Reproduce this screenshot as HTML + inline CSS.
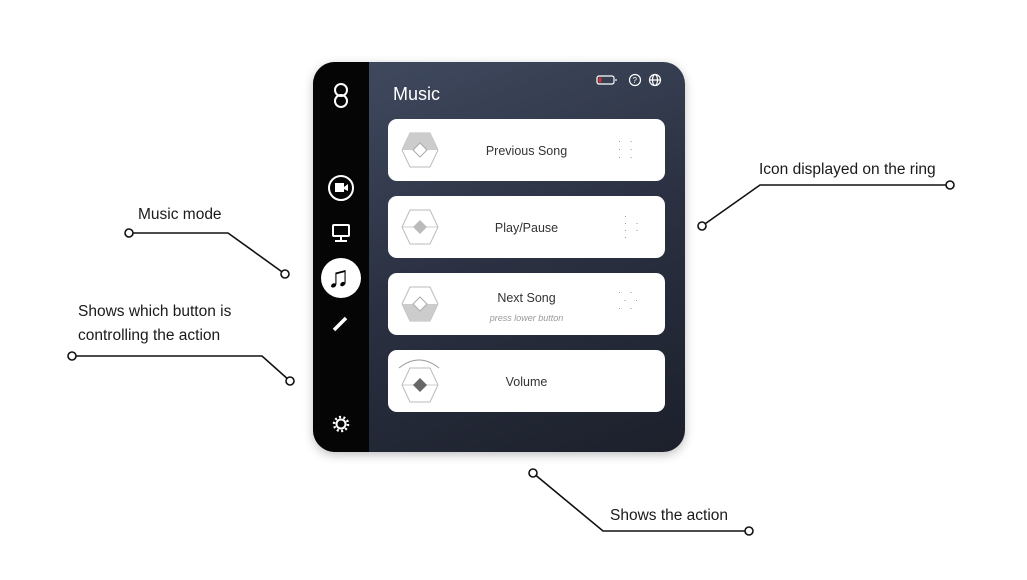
<!DOCTYPE html>
<html><head><style>
body{margin:0;width:1027px;height:580px;background:#fff;position:relative;overflow:hidden;font-family:"Liberation Sans",sans-serif}
.lbl{position:absolute;font-size:15.5px;color:#1a1a1a;line-height:24px}
.panel{position:absolute;left:313px;top:62px;width:372px;height:390px;border-radius:22px;overflow:hidden;background:linear-gradient(160deg,#414b60 0%,#2b3142 50%,#1c202b 100%);box-shadow:0 3px 10px rgba(0,0,0,.25)}
.side{position:absolute;left:0;top:0;width:56px;height:100%;background:#050505}
.card{position:absolute;left:75px;width:277px;height:62px;background:#fff;border-radius:9px}
.card .t{position:absolute;left:60px;right:60px;top:25px;text-align:center;font-size:12.5px;color:#333}
.hex{position:absolute;left:12px;top:12px}
.title{position:absolute;left:80px;top:22px;color:#fff;font-size:18px}
.dots{position:absolute;color:#888;font-size:9px;letter-spacing:3px;line-height:8px}
</style></head><body>
<svg width="1027" height="580" style="position:absolute;left:0;top:0" fill="none" stroke="#111" stroke-width="1.6">
<polyline points="129,233 228,233 285,274"/><circle cx="129" cy="233" r="4" fill="#fff"/><circle cx="285" cy="274" r="4" fill="#fff"/>
<polyline points="72,356 262,356 290,381"/><circle cx="72" cy="356" r="4" fill="#fff"/><circle cx="290" cy="381" r="4" fill="#fff"/>
<polyline points="950,185 760,185 702,226"/><circle cx="950" cy="185" r="4" fill="#fff"/><circle cx="702" cy="226" r="4" fill="#fff"/>
<polyline points="533,473 603,531 749,531"/><circle cx="533" cy="473" r="4" fill="#fff"/><circle cx="749" cy="531" r="4" fill="#fff"/>
</svg>
<div class="lbl" style="left:138px;top:203px">Music mode</div>
<div class="lbl" style="left:78px;top:300px">Shows which button is<br>controlling the action</div>
<div class="lbl" style="left:759px;top:158px">Icon displayed on the ring</div>
<div class="lbl" style="left:610px;top:504px">Shows the action</div>
<div class="panel">
 <div class="side">
  <svg width="56" height="390" fill="none" stroke="#fff" stroke-width="2">
   <circle cx="28" cy="28" r="6"/><circle cx="28" cy="39" r="6"/>
   <circle cx="28" cy="126" r="12"/><rect x="22" y="121" width="9" height="9" fill="#fff" stroke="none"/><polygon points="31,125 35,122 35,129 31,127" fill="#fff" stroke="none"/>
   <rect x="20" y="163" width="16" height="11" rx="1"/><line x1="28" y1="174" x2="28" y2="179"/><line x1="22" y1="179" x2="34" y2="179"/>
   <circle cx="28" cy="216" r="20" fill="#fff" stroke="none"/>
   <line x1="21" y1="268" x2="33" y2="256" stroke-width="3.5"/>
   <circle cx="28" cy="362" r="4.5"/>
   <circle cx="28" cy="362" r="7" stroke-dasharray="2 2.4" stroke-width="2.5"/>
  </svg>
  <div style="position:absolute;left:14px;top:198px;font-size:30px;font-weight:bold;color:#000;line-height:36px">♫</div>
 </div>
 <div class="title">Music</div>
 <svg style="position:absolute;left:282px;top:11px" width="80" height="16" fill="none" stroke="#fff" stroke-width="1.2">
  <rect x="2" y="3" width="17" height="8" rx="2"/><rect x="3.5" y="4.5" width="3" height="5" fill="#c33" stroke="none"/><line x1="21" y1="6" x2="21" y2="8"/>
  <circle cx="40" cy="7" r="5.5"/><text x="37.5" y="10" font-size="8" fill="#fff" stroke="none" font-family="Liberation Sans">?</text>
  <circle cx="60" cy="7" r="5.5"/><line x1="54.5" y1="7" x2="65.5" y2="7"/><ellipse cx="60" cy="7" rx="2.5" ry="5.5"/>
 </svg>
 <div class="card" style="top:57px"><svg class="hex" width="40" height="38"><polygon points="10,2 30,2 38,19 30,36 10,36 2,19" fill="#fff" stroke="#bbb"/><polygon points="10,2 30,2 38,19 2,19" fill="#ccc"/><polygon points="20,12 27,19 20,26 13,19" fill="#fff" stroke="#aaa"/></svg><div class="t">Previous Song</div>
 <div class="dots" style="left:230px;top:18px">· ·<br>·&nbsp;· <br>· ·</div></div>
 <div class="card" style="top:134px"><svg class="hex" width="40" height="38"><polygon points="10,2 30,2 38,19 30,36 10,36 2,19" fill="#fff" stroke="#bbb"/><line x1="2" y1="19" x2="38" y2="19" stroke="#ccc"/><polygon points="20,12 27,19 20,26 13,19" fill="#bbb"/></svg><div class="t">Play/Pause</div>
 <div class="dots" style="left:236px;top:17px;line-height:7px">·<br>· ·<br>· ·<br>·</div></div>
 <div class="card" style="top:211px"><svg class="hex" width="40" height="38"><polygon points="10,2 30,2 38,19 30,36 10,36 2,19" fill="#fff" stroke="#bbb"/><polygon points="2,19 38,19 30,36 10,36" fill="#ccc"/><polygon points="20,12 27,19 20,26 13,19" fill="#fff" stroke="#aaa"/></svg><div class="t" style="top:18px">Next Song</div>
 <div style="position:absolute;left:0;right:0;top:40px;text-align:center;font-size:9px;font-style:italic;color:#999">press lower button</div>
 <div class="dots" style="left:230px;top:15px">· ·<br>&nbsp;· ·<br>· ·</div></div>
 <div class="card" style="top:288px"><svg style="position:absolute;left:8px;top:4px" width="50" height="56" fill="none"><path d="M3,14 Q23,-2 43,14" stroke="#999"/><polygon points="14,14 34,14 42,31 34,48 14,48 6,31" fill="#fff" stroke="#bbb"/><line x1="6" y1="31" x2="42" y2="31" stroke="#ccc"/><polygon points="24,24 31,31 24,38 17,31" fill="#666"/></svg><div class="t">Volume</div></div>
</div>
</body></html>
